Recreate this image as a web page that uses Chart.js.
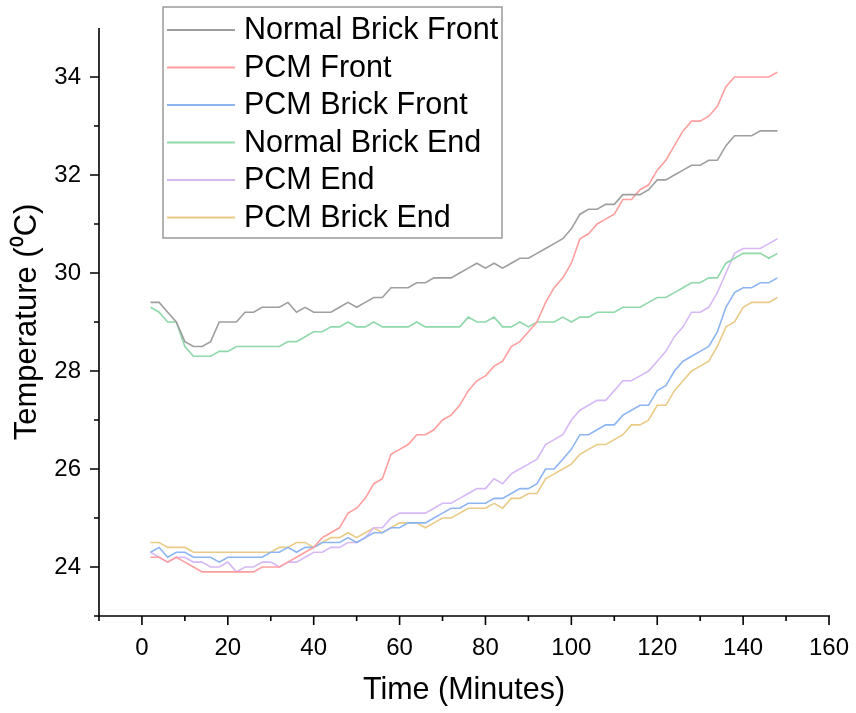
<!DOCTYPE html>
<html>
<head>
<meta charset="utf-8">
<script src="https://cdn.jsdelivr.net/npm/chart.js@4.4.0/dist/chart.umd.min.js"></script>
<style>
  html, body { margin: 0; padding: 0; background: #fff; overflow: hidden; }
  #wrap { width: 856px; height: 713px; position: relative; }
  #myChart { display: block; }
</style>
</head>
<body>
<div id="wrap"><canvas id="myChart"></canvas></div>
<script>
// time in minutes, one reading every 2 minutes
const times = [2,4,6,8,10,12,14,16,18,20, 22,24,26,28,30,32,34,36,38,40,
  42,44,46,48,50,52,54,56,58,60, 62,64,66,68,70,72,74,76,78,80,
  82,84,86,88,90,92,94,96,98,100, 102,104,106,108,110,112,114,116,118,120,
  122,124,126,128,130,132,134,136,138,140, 142,144,146,148];

const normalBrickFront = [29.4,29.4,29.2,29.0,28.6,28.5,28.5,28.6,29.0,29.0,
  29.0,29.2,29.2,29.3,29.3,29.3,29.4,29.2,29.3,29.2,
  29.2,29.2,29.3,29.4,29.3,29.4,29.5,29.5,29.7,29.7,
  29.7,29.8,29.8,29.9,29.9,29.9,30.0,30.1,30.2,30.1,
  30.2,30.1,30.2,30.3,30.3,30.4,30.5,30.6,30.7,30.9,
  31.2,31.3,31.3,31.4,31.4,31.6,31.6,31.6,31.7,31.9,
  31.9,32.0,32.1,32.2,32.2,32.3,32.3,32.6,32.8,32.8,
  32.8,32.9,32.9,32.9];

const pcmFront = [24.2,24.2,24.1,24.2,24.1,24.0,23.9,23.9,23.9,23.9,
  23.9,23.9,23.9,24.0,24.0,24.0,24.1,24.2,24.3,24.4,
  24.6,24.7,24.8,25.1,25.2,25.4,25.7,25.8,26.3,26.4,
  26.5,26.7,26.7,26.8,27.0,27.1,27.3,27.6,27.8,27.9,
  28.1,28.2,28.5,28.6,28.8,29.0,29.4,29.7,29.9,30.2,
  30.7,30.8,31.0,31.1,31.2,31.5,31.5,31.7,31.8,32.1,
  32.3,32.6,32.9,33.1,33.1,33.2,33.4,33.8,34.0,34.0,
  34.0,34.0,34.0,34.1];

const pcmBrickFront = [24.3,24.4,24.2,24.3,24.3,24.2,24.2,24.2,24.1,24.2,
  24.2,24.2,24.2,24.2,24.3,24.3,24.4,24.3,24.4,24.4,
  24.5,24.5,24.5,24.6,24.5,24.6,24.7,24.7,24.8,24.8,
  24.9,24.9,24.9,25.0,25.1,25.2,25.2,25.3,25.3,25.3,
  25.4,25.4,25.5,25.6,25.6,25.7,26.0,26.0,26.2,26.4,
  26.7,26.7,26.8,26.9,26.9,27.1,27.2,27.3,27.3,27.6,
  27.7,28.0,28.2,28.3,28.4,28.5,28.8,29.3,29.6,29.7,
  29.7,29.8,29.8,29.9];

const normalBrickEnd = [29.3,29.2,29.0,29.0,28.5,28.3,28.3,28.3,28.4,28.4,
  28.5,28.5,28.5,28.5,28.5,28.5,28.6,28.6,28.7,28.8,
  28.8,28.9,28.9,29.0,28.9,28.9,29.0,28.9,28.9,28.9,
  28.9,29.0,28.9,28.9,28.9,28.9,28.9,29.1,29.0,29.0,
  29.1,28.9,28.9,29.0,28.9,29.0,29.0,29.0,29.1,29.0,
  29.1,29.1,29.2,29.2,29.2,29.3,29.3,29.3,29.4,29.5,
  29.5,29.6,29.7,29.8,29.8,29.9,29.9,30.2,30.3,30.4,
  30.4,30.4,30.3,30.4];

const pcmEnd = [24.3,24.2,24.1,24.2,24.2,24.1,24.1,24.0,24.0,24.1,
  23.9,24.0,24.0,24.1,24.1,24.0,24.1,24.1,24.2,24.3,
  24.3,24.4,24.4,24.5,24.5,24.6,24.8,24.8,25.0,25.1,
  25.1,25.1,25.1,25.2,25.3,25.3,25.4,25.5,25.6,25.6,
  25.8,25.7,25.9,26.0,26.1,26.2,26.5,26.6,26.7,27.0,
  27.2,27.3,27.4,27.4,27.6,27.8,27.8,27.9,28.0,28.2,
  28.4,28.7,28.9,29.2,29.2,29.3,29.6,30.0,30.4,30.5,
  30.5,30.5,30.6,30.7];

const pcmBrickEnd = [24.5,24.5,24.4,24.4,24.4,24.3,24.3,24.3,24.3,24.3,
  24.3,24.3,24.3,24.3,24.3,24.4,24.4,24.5,24.5,24.4,
  24.5,24.6,24.6,24.7,24.6,24.7,24.8,24.7,24.8,24.9,
  24.9,24.9,24.8,24.9,25.0,25.0,25.1,25.2,25.2,25.2,
  25.3,25.2,25.4,25.4,25.5,25.5,25.8,25.9,26.0,26.1,
  26.3,26.4,26.5,26.5,26.6,26.7,26.9,26.9,27.0,27.3,
  27.3,27.6,27.8,28.0,28.1,28.2,28.5,28.9,29.0,29.3,
  29.4,29.4,29.4,29.5];

const seriesNames = ['Normal Brick Front', 'PCM Front', 'PCM Brick Front',
  'Normal Brick End', 'PCM End', 'PCM Brick End'];
const seriesData = [normalBrickFront, pcmFront, pcmBrickFront, normalBrickEnd, pcmEnd, pcmBrickEnd];
const seriesColors = ['#9e9e9e', '#ff9e9e', '#8db5f2', '#8fd8aa', '#d7b8f5', '#e9ca86'];

// x ticks every 10 (labels every 20), y ticks every 1 (labels every 2)
const xMin = -10, xMax = 160, xStep = 10, xLabelEvery = 20;
const yMin = 23, yMax = 35, yStep = 1, yLabelEvery = 2;

const FONT = "'Liberation Sans', Arial, sans-serif";

// axis lines + major/minor tick marks, Origin style
const axesPlugin = {
  id: 'axes',
  afterDraw(chart) {
    const ctx = chart.ctx;
    const xs = chart.scales.x, ys = chart.scales.y;
    const area = chart.chartArea;
    ctx.save();
    ctx.strokeStyle = '#000';
    ctx.lineWidth = 1.6;
    ctx.beginPath();
    ctx.moveTo(area.left - 5, area.bottom);
    ctx.lineTo(area.right + 1, area.bottom);
    ctx.moveTo(area.left, area.top);
    ctx.lineTo(area.left, area.bottom + 3);
    xs.ticks.forEach(t => {
      const px = xs.getPixelForValue(t.value);
      const len = t.value % xLabelEvery === 0 ? 9 : 5;
      ctx.moveTo(px, area.bottom);
      ctx.lineTo(px, area.bottom + len);
    });
    ys.ticks.forEach(t => {
      if (t.value >= yMax) return;
      const py = ys.getPixelForValue(t.value);
      const len = t.value % yLabelEvery === 0 ? 9 : 5;
      ctx.moveTo(area.left, py);
      ctx.lineTo(area.left - len, py);
    });
    ctx.stroke();
    ctx.restore();
  }
};

// boxed legend in the upper left of the plot
const legendPlugin = {
  id: 'boxLegend',
  afterDraw(chart) {
    const ctx = chart.ctx;
    const bx = 163, by = 7, bw = 339, bh = 231, rowH = 37.5;
    ctx.save();
    ctx.fillStyle = '#fff';
    ctx.fillRect(bx, by, bw, bh);
    ctx.strokeStyle = '#9a9a9a';
    ctx.lineWidth = 1.5;
    ctx.strokeRect(bx, by, bw, bh);
    ctx.font = '30.5px ' + FONT;
    ctx.textBaseline = 'middle';
    ctx.fillStyle = '#000';
    chart.data.datasets.forEach((ds, i) => {
      const cy = by + 23 + i * rowH;
      ctx.strokeStyle = ds.borderColor;
      ctx.lineWidth = 2;
      ctx.beginPath();
      ctx.moveTo(bx + 4, cy);
      ctx.lineTo(bx + 72, cy);
      ctx.stroke();
      ctx.fillText(ds.label, bx + 81, cy + 1);
    });
    ctx.restore();
  }
};

const ctx = document.getElementById('myChart');
new Chart(ctx, {
  type: 'line',
  data: {
    datasets: seriesNames.map((name, i) => ({
      label: name,
      data: times.map((t, j) => ({x: t, y: seriesData[i][j]})),
      borderColor: seriesColors[i],
      borderWidth: 1.6,
      pointRadius: 0,
      tension: 0,
      fill: false
    }))
  },
  options: {
    responsive: true,
    maintainAspectRatio: false,
    animation: false,
    layout: { padding: { top: 28, right: 27, left: 0, bottom: 0 } },
    plugins: {
      legend: { display: false },
      tooltip: { enabled: false }
    },
    scales: {
      x: {
        type: 'linear',
        min: xMin, max: xMax,
        grid: { display: false, drawTicks: false },
        border: { display: false },
        ticks: {
          stepSize: xStep,
          autoSkip: false,
          maxRotation: 0,
          padding: 18,
          color: '#000',
          font: { family: FONT, size: 24 },
          callback: (v) => v % xLabelEvery === 0 ? v : ''
        },
        title: {
          display: true,
          text: 'Time (Minutes)',
          color: '#000',
          font: { family: FONT, size: 30.5 },
          padding: { top: 0, bottom: 4 }
        },
        afterFit: (scale) => {
          scale.height = 97;
          // label padding would otherwise eat into the plot width
          scale.paddingLeft = 0;
          scale.paddingRight = 20;
        }
      },
      y: {
        min: yMin, max: yMax,
        grid: { display: false, drawTicks: false },
        border: { display: false },
        ticks: {
          stepSize: yStep,
          autoSkip: false,
          padding: 18,
          color: '#000',
          font: { family: FONT, size: 24 },
          callback: (v) => (v % yLabelEvery === 0 && v < yMax) ? v : ''
        },
        title: {
          display: true,
          text: 'Temperature (\u2070C)',
          color: '#000',
          font: { family: FONT, size: 31 },
          padding: { top: 9, bottom: 0 }
        },
        afterFit: (scale) => {
          scale.width = 99;
          scale.paddingTop = 10;
          scale.paddingBottom = 10;
        }
      }
    }
  },
  plugins: [axesPlugin, legendPlugin]
});
</script>
</body>
</html>
